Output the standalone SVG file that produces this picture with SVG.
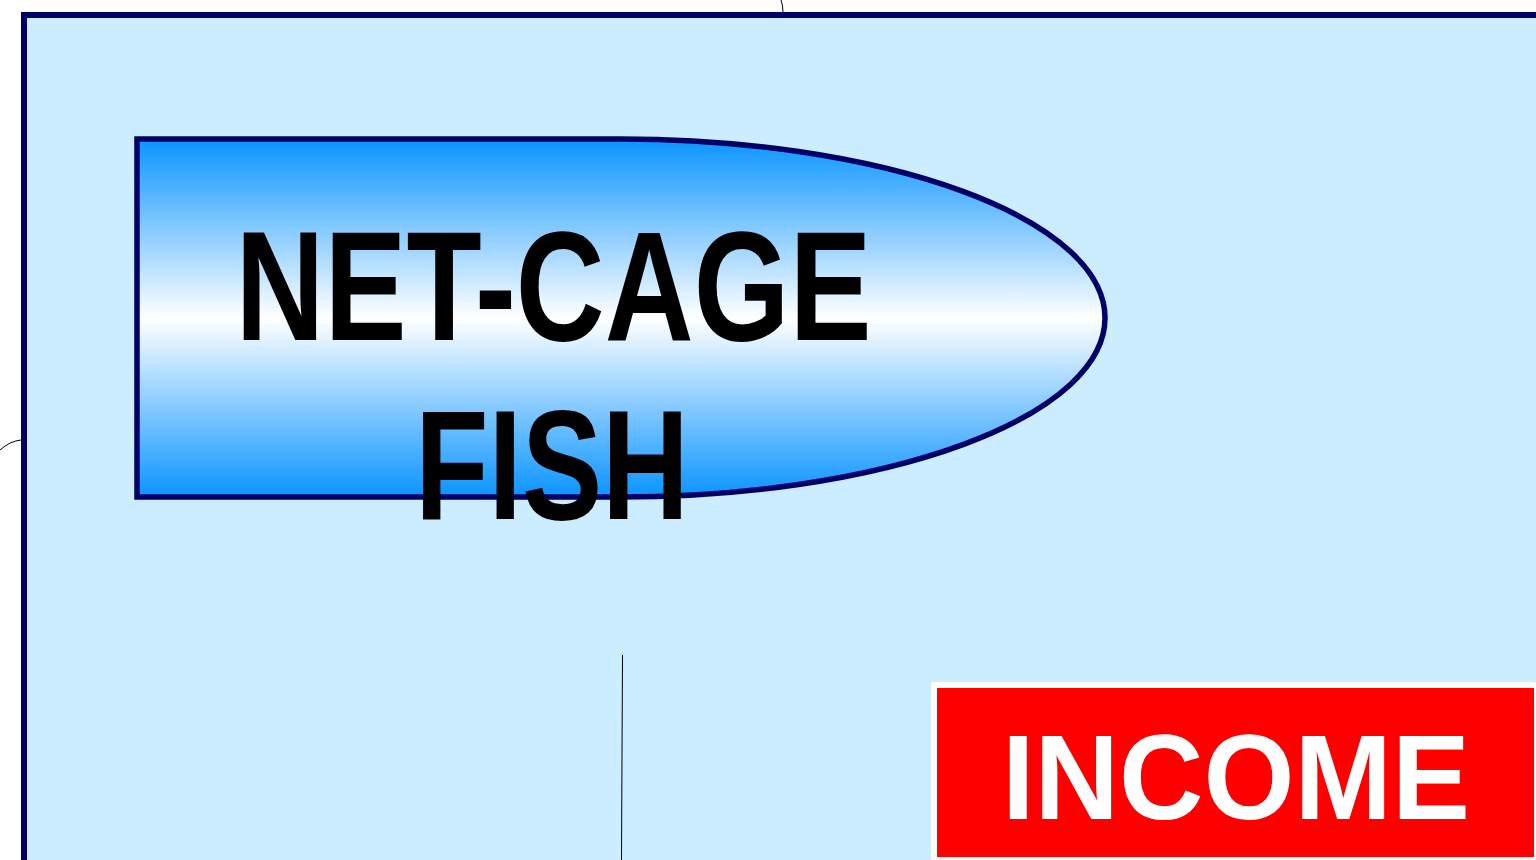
<svg xmlns="http://www.w3.org/2000/svg" width="1536" height="860" viewBox="0 0 1536 860">
  <defs>
    <linearGradient id="fishGrad" x1="0" y1="0" x2="0" y2="1">
      <stop offset="0" stop-color="#0A94FF"/>
      <stop offset="0.5" stop-color="#FFFFFF"/>
      <stop offset="1" stop-color="#0A94FF"/>
    </linearGradient>
    <style>
      .frame { fill: #CCECFF; stroke: #000066; stroke-width: 6; }
      .label { font-family: "Liberation Sans", Arial, sans-serif; font-weight: bold; text-anchor: middle; }
      .conn { fill: none; stroke: #000000; stroke-width: 1; }
    </style>
  </defs>
  <rect width="1536" height="860" fill="#FFFFFF"/>
  <g id="background">
    <rect class="frame" x="24" y="15" width="1530" height="860"/>
  </g>
  <g id="connectors">
    <path class="conn" d="M781,0 Q783,6 783,12"/>
    <path class="conn" d="M0,450 Q10,441 21,440"/>
    <path class="conn" d="M622.5,655 L621.5,860"/>
  </g>
  <g id="net-cage-fish">
    <path d="M137,139 H620 A485,179 0 0 1 620,497 H137 Z" fill="url(#fishGrad)" stroke="#000066" stroke-width="5.5"/>
    <text class="label" x="553.5" y="340" font-size="155" fill="#000000" textLength="636" lengthAdjust="spacingAndGlyphs">NET-CAGE</text>
    <text class="label" x="552" y="519" font-size="155" fill="#000000" textLength="274" lengthAdjust="spacingAndGlyphs">FISH</text>
  </g>
  <g id="income">
    <rect x="934" y="685" width="603" height="175" fill="#FF0000" stroke="#FFFFFF" stroke-width="6"/>
    <text class="label" x="1236" y="819" font-size="120" fill="#FFFFFF" textLength="468" lengthAdjust="spacingAndGlyphs">INCOME</text>
  </g>
</svg>
